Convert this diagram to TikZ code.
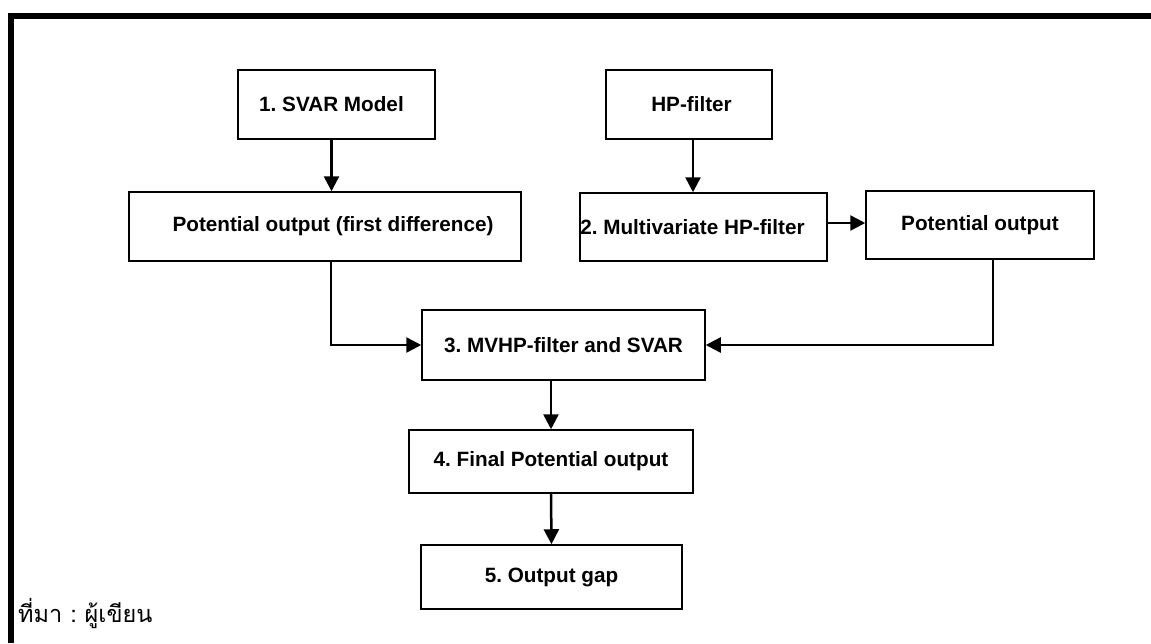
\documentclass[tikz,border=0pt]{standalone}
\usepackage{fontspec}
\setmainfont{Liberation Sans}
\newfontfamily\thaifont[Script=Thai]{Loma}
\usetikzlibrary{arrows.meta}
\frenchspacing
\begin{document}
\begin{tikzpicture}[x=1pt,y=-1pt,
  boxnode/.style={draw,line width=1.5pt,inner sep=0pt,align=center,
    font=\fontsize{20.7}{24}\selectfont\bfseries},
  conn/.style={line width=2.5pt,-{Triangle[length=15pt,width=15pt]}},
  frameline/.style={line width=6.5pt,line join=miter}]
\useasboundingbox (0,0) rectangle (1151,643);
\draw[frameline] (11,643) -- (11,16) -- (1151,16);

\node[boxnode,minimum width=197pt,minimum height=69pt] (svar) at (336.5,104.5) {1. SVAR Model\hspace{10pt}};
\node[boxnode,minimum width=392pt,minimum height=69pt] (po1) at (325,226.5) {\hspace{16pt}Potential output (first difference)};
\node[boxnode,minimum width=166pt,minimum height=69pt] (hp) at (689,104.5) {\hspace{5pt}HP-filter};
\node[boxnode,minimum width=247pt,minimum height=68pt] (mvhp) at (703.5,227) {2. Multivariate HP-filter\hspace{22pt}};
\node[boxnode,minimum width=228pt,minimum height=68pt] (po2) at (980,225) {Potential output};
\node[boxnode,minimum width=283pt,minimum height=70pt] (comb) at (563.5,345) {3. MVHP-filter and SVAR};
\node[boxnode,minimum width=284pt,minimum height=63pt] (final) at (551,461.5) {4. Final Potential output};
\node[boxnode,minimum width=261pt,minimum height=64pt] (gap) at (551.5,577) {5. Output gap};

\node[anchor=base west,inner sep=0pt,font=\thaifont\fontsize{23.5}{28}\selectfont] (src) at (18,622) {ที่มา : ผู้เขียน};

\draw[conn] ([xshift=-5pt]svar.south) -- ([xshift=-5pt]svar.south |- po1.north);
\draw[conn] ([xshift=4pt]hp.south) -- ([xshift=4pt]hp.south |- mvhp.north);
\draw[conn] ([yshift=4pt]mvhp.east) -- ([yshift=2pt]po2.west);
\draw[conn] ([xshift=6pt]po1.south) |- (comb.west);
\draw[conn] ([xshift=13pt]po2.south) |- (comb.east);
\draw[conn] (final.north |- comb.south) -- (final.north);
\draw[conn] (final.south) -- (gap.north);
\end{tikzpicture}
\end{document}
